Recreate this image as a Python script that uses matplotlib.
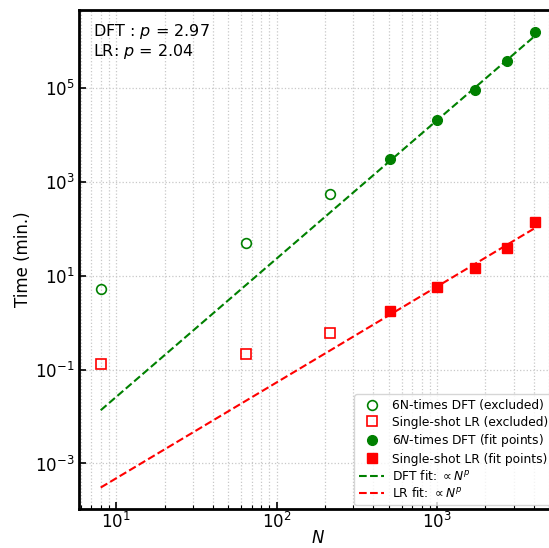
import numpy as np
import matplotlib
matplotlib.use("Agg")
import matplotlib.pyplot as plt
from matplotlib.ticker import NullLocator

# system sizes (cubes)
N_excl = np.array([8, 64, 216])
N_fit = np.array([512, 1000, 1728, 2744, 4096])

dft_excl = np.array([5.3, 50.0, 555.0])
dft_fit = np.array([3100.0, 21000.0, 92000.0, 373000.0, 1.55e6])

lr_excl = np.array([0.134, 0.22, 0.60])
lr_fit = np.array([1.75, 5.7, 14.8, 39.0, 140.0])

p_dft_label = 2.97
p_lr_label = 2.04

y_ticks = [1e-3, 1e-1, 1e1, 1e3, 1e5]

fig = plt.figure(figsize=(5.49, 5.48), dpi=100)
ax = fig.add_axes([0.1439, 0.0712, 0.871, 0.9106])

ax.plot(N_excl, dft_excl, 'o', mfc='none', mec='green', ms=7, mew=1.2,
        label='6N-times DFT (excluded)')
ax.plot(N_excl, lr_excl, 's', mfc='none', mec='red', ms=7, mew=1.2,
        label='Single-shot LR (excluded)')
ax.plot(N_fit, dft_fit, 'o', color='green', ms=7, label='6$N$-times DFT (fit points)')
ax.plot(N_fit, lr_fit, 's', color='red', ms=7, label='Single-shot LR (fit points)')

# power-law fits on the fit points only
N_line = np.array([8, 4096])
p_d, c_d = np.polyfit(np.log10(N_fit), np.log10(dft_fit), 1)
p_l, c_l = np.polyfit(np.log10(N_fit), np.log10(lr_fit), 1)
ax.plot(N_line, 10**c_d * N_line**p_d, '--', color='green', lw=1.5,
        label=r'DFT fit: $\propto N^p$')
ax.plot(N_line, 10**c_l * N_line**p_l, '--', color='red', lw=1.5,
        label=r'LR fit: $\propto N^p$')

ax.set_xscale('log')
ax.set_yscale('log')
ax.set_xlim(5.86, 5600)
ax.set_ylim(10**-3.97, 10**6.67)
ax.set_yticks(y_ticks)
ax.yaxis.set_minor_locator(NullLocator())

ax.set_xlabel('$N$', fontsize=12, labelpad=-2)
ax.set_ylabel('Time (min.)', fontsize=12, labelpad=2)
ax.tick_params(which='both', direction='in', labelsize=12)
ax.tick_params(which='major', length=5, width=1.2, pad=3)
ax.tick_params(axis='x', which='major', pad=2)
ax.tick_params(which='minor', length=3, width=0.8)
for s in ax.spines.values():
    s.set_linewidth(2)
ax.grid(True, which='both', linestyle=':', color='#c8c8c8', linewidth=0.9)

ax.text(0.03, 0.975, 'DFT : $p$ = %.2f\nLR: $p$ = %.2f' % (p_dft_label, p_lr_label),
        transform=ax.transAxes, fontsize=11.5, va='top', ha='left', linespacing=1.05)

ax.legend(loc='lower right', fontsize=8.8, framealpha=0.8, borderaxespad=0.3,
          labelspacing=0.28, handlelength=2.0, handletextpad=0.7)

fig.savefig('out.png', dpi=100)
